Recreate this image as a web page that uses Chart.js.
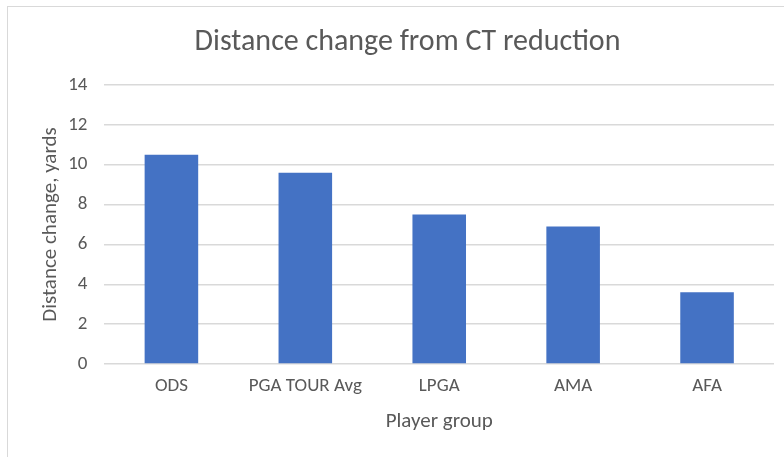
<!DOCTYPE html>
<html>
<head>
<meta charset="utf-8">
<script src="https://cdn.jsdelivr.net/npm/chart.js@4"></script>
<style>
  html, body { margin: 0; padding: 0; background: #fff; }
  #wrap { position: relative; width: 784px; height: 457px; overflow: hidden; }
  #frame { position: absolute; left: 7px; top: 6px; width: 800px; height: 470px;
           border: 1px solid #d9d9d9; box-sizing: border-box; pointer-events: none; }
</style>
</head>
<body>
<div id="wrap">
  <canvas id="bar_chart" width="784" height="457"></canvas>
  <div id="frame"></div>
</div>
<script>
var groups = ["ODS", "PGA TOUR Avg", "LPGA", "AMA", "AFA"];
var distanceChange = [10.5, 9.6, 7.5, 6.9, 3.6];
var yTicks = [0, 2, 4, 6, 8, 10, 12, 14];

var fontName = 'Carlito, Calibri, "Liberation Sans Narrow", "Open Sans", sans-serif';

new Chart(document.getElementById("bar_chart"), {
  type: 'bar',
  data: {
    labels: groups,
    datasets: [{
      label: "Distance change",
      data: distanceChange,
      backgroundColor: '#4472c4',
      categoryPercentage: 0.4,
      barPercentage: 1.0
    }]
  },
  options: {
    responsive: false,
    animation: false,
    layout: { padding: { left: 41, right: 10, top: 0, bottom: 19 } },
    plugins: {
      legend: { display: false },
      tooltip: { enabled: false },
      title: {
        display: true,
        text: "Distance change from CT reduction",
        color: '#595959',
        font: { family: fontName, size: 30, weight: 'normal' },
        padding: { top: 24, bottom: 25 }
      }
    },
    scales: {
      x: {
        grid: { display: false, drawTicks: false },
        border: { display: false },
        ticks: { color: '#595959', font: { family: fontName, size: 19 }, padding: 11 },
        title: { display: true, text: "Player group", color: '#595959',
                 font: { family: fontName, size: 21 }, padding: { top: 0 } }
      },
      y: {
        min: 0, max: 14,
        afterBuildTicks: function (axis) {
          axis.ticks = yTicks.map(function (v) { return { value: v }; });
        },
        grid: { color: '#d9d9d9', lineWidth: 1.5, drawTicks: false },
        border: { display: false },
        ticks: { color: '#595959', font: { family: fontName, size: 19 }, padding: 17 },
        title: { display: true, text: "Distance change, yards", color: '#595959',
                 font: { family: fontName, size: 21 }, padding: { top: -3, bottom: -12 } }
      }
    }
  }
});
</script>
</body>
</html>
